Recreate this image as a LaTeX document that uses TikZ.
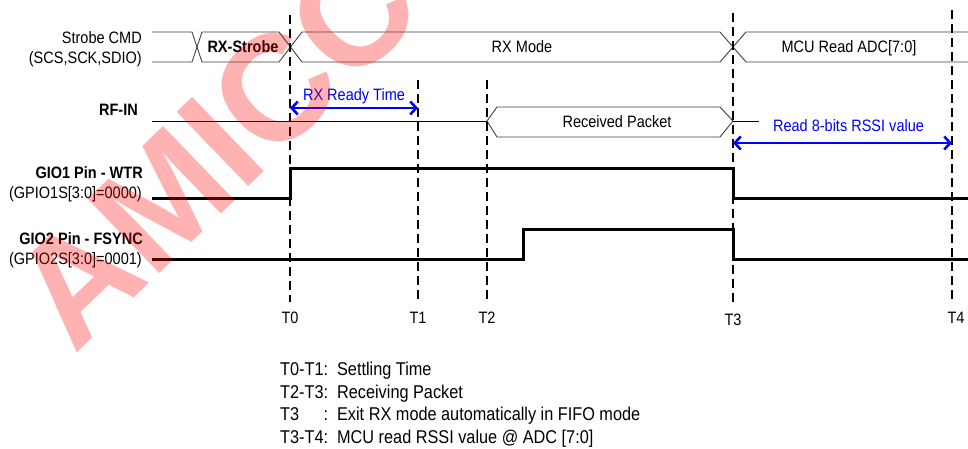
\documentclass[tikz,border=0pt]{standalone}
\usepackage{fontspec}
\setmainfont[FakeStretch=0.88]{Liberation Sans}
\newfontfamily\wmfont{Liberation Sans}
\usetikzlibrary{arrows.meta, positioning}

\begin{document}
\begin{tikzpicture}[
                x=1pt, y=-1pt,
                every node/.style={inner sep=0pt, font=\fontsize{16.5}{18}\selectfont, text height=11.8pt, text depth=0pt},
                sig/.style={draw=black, line width=3pt},
                bus/.style={draw=black!75, line width=0.9pt},
                tline/.style={line width=2.3pt, dash pattern=on 9pt off 5pt},
                timespan/.style={blue, line width=2.6pt, {Straight Barb[length=6pt,width=13pt]}-{Straight Barb[length=6pt,width=13pt]}},
                lbl/.style={anchor=east},
                bluetxt/.style={text=blue}]

            \useasboundingbox[fill=white] (0,0) rectangle (968,448);

            % Signaux
            \node[lbl] (strobe) at (142,38) {Strobe CMD};
            \node[lbl] (sdio) at (142,58) {(SCS,SCK,SDIO)};
            \node[lbl] (rfin) at (138,110) {\textbf{RF-IN}};
            \node[lbl] (gio1) at (143,173) {\textbf{GIO1 Pin - WTR}};
            \node[lbl] (gpio1) at (142,193) {(GPIO1S[3:0]=0000)};
            \node[lbl] (gio2) at (143,239) {\textbf{GIO2 Pin - FSYNC}};
            \node[lbl] (gpio2) at (142,259) {(GPIO2S[3:0]=0001)};

            % Bus SPI
            \draw[bus] (152,32) -- (192,32) -- (202,62) -- (279,62) -- (302,32) -- (720,32) -- (746,62) -- (968,62);
            \draw[bus] (152,62) -- (192,62) -- (202,32) -- (279,32) -- (302,62) -- (720,62) -- (746,32) -- (968,32);
            \node (rxstrobe) at (243,47) {\textbf{RX-Strobe}};
            \node (rxmode) at (522,47) {RX Mode};
            \node (adc) at (849,47) {MCU Read ADC[7:0]};

            % RF-IN
            \draw[black, line width=1pt] (152,121) -- (487,121);
            \draw[bus] (487,121) -- (497,107) -- (720,107) -- (733,121) -- (720,137) -- (497,137) -- cycle;
            \draw[black, line width=1pt] (733,121) -- (759,121);
            \node (pkt) at (617,122) {Received Packet};

            % GIO1 et GIO2
            \draw[sig] (152,198) -- (290,198) -- (290,168) -- (733,168) -- (733,198) -- (968,198);
            \draw[sig] (152,259) -- (523,259) -- (523,229) -- (733,229) -- (733,259) -- (968,259);

            % Instants
            \coordinate (T0top) at (290,15);  \coordinate (T0bot) at (290,302);
            \coordinate (T1top) at (418,80);  \coordinate (T1bot) at (418,302);
            \coordinate (T2top) at (487,80);  \coordinate (T2bot) at (487,302);
            \coordinate (T3top) at (733,13);  \coordinate (T3bot) at (733,302);
            \coordinate (T4top) at (952,10);  \coordinate (T4bot) at (952,302);
            \draw[tline] (T0top) -- (T0bot);
            \draw[tline] (T1top) -- (T1bot);
            \draw[tline] (T2top) -- (T2bot);
            \draw[tline] (T3top) -- (T3bot);
            \draw[tline] (T4top) -- (T4bot);
            \node[below=9pt of T0bot] (T0) {T0};
            \node[below=9pt of T1bot] (T1) {T1};
            \node[below=9pt of T2bot] (T2) {T2};
            \node[below=11pt of T3bot] (T3) {T3};
            \node[below=9pt of T4bot, xshift=4pt] (T4) {T4};

            % Durees
            \coordinate (rdyA) at (290,108); \coordinate (rdyB) at (418,108);
            \draw[timespan] (rdyA) -- node[above=6pt, bluetxt] (rdy) {RX Ready Time} (rdyB);
            \coordinate (rssiA) at (733,143); \coordinate (rssiB) at (952,143);
            \draw[timespan] (rssiA) -- node[above=10pt, bluetxt, xshift=6pt] (rssi) {Read 8-bits RSSI value} (rssiB);

            % Legende
            \node[anchor=base west, font=\fontsize{18.5}{22.7}\selectfont] (legend) at (280,375.5) {%
                \begin{tabular}[t]{@{}l@{\hspace{9pt}}l@{}}
                T0-T1: & Settling Time\\
                T2-T3: & Receiving Packet\\
                T3\hfill: & Exit RX mode automatically in FIFO mode\\
                T3-T4: & MCU read RSSI value @ ADC [7:0]
                \end{tabular}};

            % Filigrane
            \node[anchor=base west, rotate=44, text=red, text opacity=0.3,
                  font=\wmfont\bfseries\fontsize{150}{150}\selectfont] (wm) at (74,356) {AMICCOM};

        \end{tikzpicture}
\end{document}
